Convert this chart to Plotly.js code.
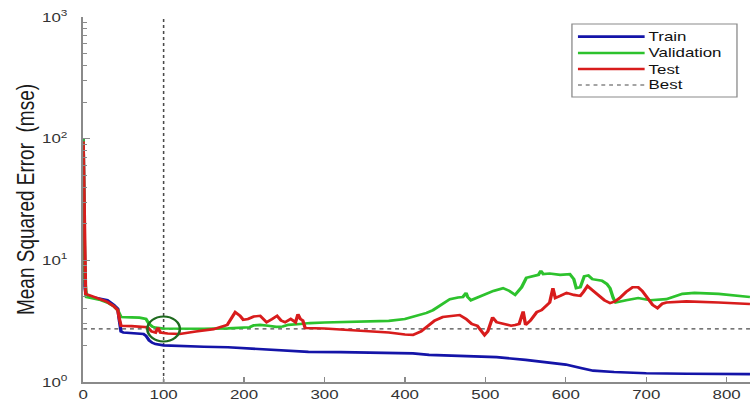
<!DOCTYPE html>
<html><head><meta charset="utf-8">
<script src="https://cdn.plot.ly/plotly-3.0.1.min.js"></script>
<style>
html,body{margin:0;padding:0;background:#fff;overflow:hidden;width:750px;height:403px;}
#chart{width:577px;height:403px;transform:scaleX(1.2998);transform-origin:0 0;}
</style></head><body><div id="chart"></div>
<script>
// Epochs and mean squared error
const trainEpochs = [0,1,2,4,10,20,30,38,43,45,47,50,60,70,75,78,82,86,90,100,120,150,180,200,230,260,280,320,360,400,410,430,470,514,550,580,600,620,634,660,700,750,800,829];
const trainMSE    = [100,20,6,5.1,5.0,4.9,4.7,4.3,4.0,3.2,2.6,2.55,2.52,2.5,2.48,2.4,2.2,2.1,2.05,2.0,1.97,1.95,1.93,1.9,1.85,1.8,1.77,1.76,1.75,1.74,1.72,1.67,1.64,1.60,1.52,1.45,1.39,1.30,1.24,1.21,1.18,1.17,1.16,1.16];

const valEpochs = [0,1,2,4,10,20,30,38,43,45,47,60,70,78,82,86,90,100,120,150,180,200,207,212,220,230,240,248,255,270,282,300,340,380,400,415,427,435,445,456,466,472,476,478,482,490,500,510,522,530,537,545,551,560,566,569,572,580,593,605,610,613,618,623,628,633,638,645,651,655,659,662,675,690,705,725,745,760,790,829];
const valMSE    = [100,30,7,5.0,4.9,4.75,4.5,4.2,3.9,3.6,3.42,3.40,3.38,3.30,3.0,2.85,2.8,2.75,2.74,2.74,2.76,2.78,2.82,2.92,2.95,2.9,2.84,2.86,2.95,3.0,3.05,3.08,3.12,3.18,3.3,3.5,3.7,3.9,4.3,4.8,4.95,5.0,5.4,5.0,4.7,4.95,5.3,5.6,5.9,5.6,5.2,6.0,7.2,7.4,7.6,8.2,7.7,7.8,7.6,7.7,7.0,5.9,6.0,7.4,7.5,7.0,6.9,6.8,6.4,5.9,4.9,4.5,4.7,4.9,4.7,4.8,5.3,5.4,5.3,5.0];

const testEpochs = [0,1,2,3,10,20,30,38,43,45,47,60,70,80,85,90,93,96,105,120,140,162,179,185,189,195,199,205,212,220,228,235,241,246,251,258,264,267,270,273,276,300,340,380,400,410,420,427,437,447,458,468,476,483,490,495,499,503,509,514,518,525,532,537,542,547,550,556,564,570,576,580,584,587,593,601,610,618,622,627,633,640,648,655,661,667,675,683,690,695,699,702,708,714,720,725,750,790,829];
const testMSE    = [95,30,8,5.3,5.1,4.85,4.55,4.2,3.9,3.3,2.9,2.88,2.85,2.82,2.6,2.55,2.8,2.55,2.5,2.48,2.6,2.72,2.94,3.4,3.75,3.5,3.25,3.3,3.45,3.5,3.1,3.3,3.5,3.2,3.1,3.3,3.1,3.6,3.3,3.2,2.78,2.75,2.65,2.55,2.46,2.44,2.6,2.83,3.2,3.42,3.5,3.55,3.3,3.0,2.9,2.6,2.43,2.6,3.4,3.1,3.05,2.95,2.9,2.94,3.0,3.8,2.95,3.2,3.76,3.9,4.2,4.5,5.9,4.9,5.1,5.4,5.2,5.1,5.5,6.15,5.7,5.2,4.7,4.45,4.6,4.9,5.5,6.0,6.0,5.6,5.2,4.8,4.3,4.05,4.4,4.5,4.6,4.5,4.37];

const bestEpoch = 100;
const bestMSE = 2.73;
const xMax = 829;
const xTickVals = [0,100,200,300,400,500,600,700,800];
const yTickVals = [1,10,100,1000];
const yTickText = ['10<sup>0</sup>','10<sup>1</sup>','10<sup>2</sup>','10<sup>3</sup>'];
const legendNames = ['Train','Validation','Test','Best'];

// minor log ticks (2..9 in each decade)
const yMinor = [];
for (let d = 1; d < 1000; d *= 10) { for (let k = 2; k <= 9; k++) yMinor.push(k * d); }

const axisGray = '#8a8a8a';
const colors = {Train:'#1414a8', Validation:'#2dc22d', Test:'#d81c1c', Best:'#4a4a4a'};
const traces = [
  {x:[bestEpoch,bestEpoch,null,0,xMax], y:[1,1000,null,bestMSE,bestMSE], name:'Best', mode:'lines',
   line:{color:colors.Best, width:1.2, dash:'dot'}, connectgaps:false},
  {x:trainEpochs, y:trainMSE, name:'Train', mode:'lines', line:{color:colors.Train, width:2.6}},
  {x:valEpochs, y:valMSE, name:'Validation', mode:'lines', line:{color:colors.Validation, width:2.6}},
  {x:testEpochs, y:testMSE, name:'Test', mode:'lines', line:{color:colors.Test, width:2.6}},
  {x:[bestEpoch], y:[bestMSE], mode:'markers', name:'Best point',
   marker:{symbol:'circle-open', size:25, color:'#1f6b1f', line:{color:'#1f6b1f', width:2}}}
];

// legend box drawn in paper coordinates (top-right)
const lg = {x0:0.733, x1:0.9805, y0:0.781, y1:0.981, lineX0:0.742, lineX1:0.842, textX:0.846,
            rows:[0.9463,0.9014,0.8575,0.8137]};
const shapes = [{type:'rect', xref:'paper', yref:'paper', x0:lg.x0, x1:lg.x1, y0:lg.y0, y1:lg.y1,
  line:{color:axisGray, width:1}, fillcolor:'#ffffff', layer:'above'}];
const annotations = [];
legendNames.forEach((nm, i) => {
  shapes.push({type:'line', xref:'paper', yref:'paper', x0:lg.lineX0, x1:lg.lineX1, y0:lg.rows[i], y1:lg.rows[i],
    line:{color:colors[nm], width: nm === 'Best' ? 1.2 : 2.6, dash: nm === 'Best' ? 'dot' : 'solid'}, layer:'above'});
  annotations.push({xref:'paper', yref:'paper', x:lg.textX, y:lg.rows[i], text:nm, showarrow:false,
    xanchor:'left', yanchor:'middle', align:'left', borderpad:0, font:{size:13, color:'#111'}});
});

const layout = {
  width:577, height:403,
  margin:{l:64, r:0, t:17, b:21, pad:0},
  paper_bgcolor:'#ffffff', plot_bgcolor:'#ffffff',
  font:{family:'"Liberation Sans", Arial, sans-serif', color:'#333', size:13},
  showlegend:false,
  shapes:shapes, annotations:annotations,
  xaxis:{range:[0,xMax], tickvals:xTickVals, ticks:'inside', ticklen:5, tickcolor:axisGray, tickwidth:1,
    showline:true, linecolor:axisGray, linewidth:1.5, showgrid:false, zeroline:false, automargin:false,
    tickfont:{size:13, color:'#333'}},
  yaxis:{type:'log', range:[0,3], tickvals:yTickVals, ticktext:yTickText, ticks:'inside', ticklen:5,
    tickcolor:axisGray, tickwidth:1, showline:true, linecolor:axisGray, linewidth:1.5, showgrid:false,
    zeroline:false, automargin:false, ticklabelstandoff:8,
    minor:{tickvals:yMinor, ticks:'inside', ticklen:3, tickcolor:axisGray, showgrid:false},
    tickfont:{size:13, color:'#333'},
    title:{text:'Mean Squared Error \u00a0(mse)', font:{size:19, color:'#1a1a1a'}, standoff:0}}
};

Plotly.newPlot('chart', traces, layout, {displayModeBar:false, staticPlot:true});
</script></body></html>
